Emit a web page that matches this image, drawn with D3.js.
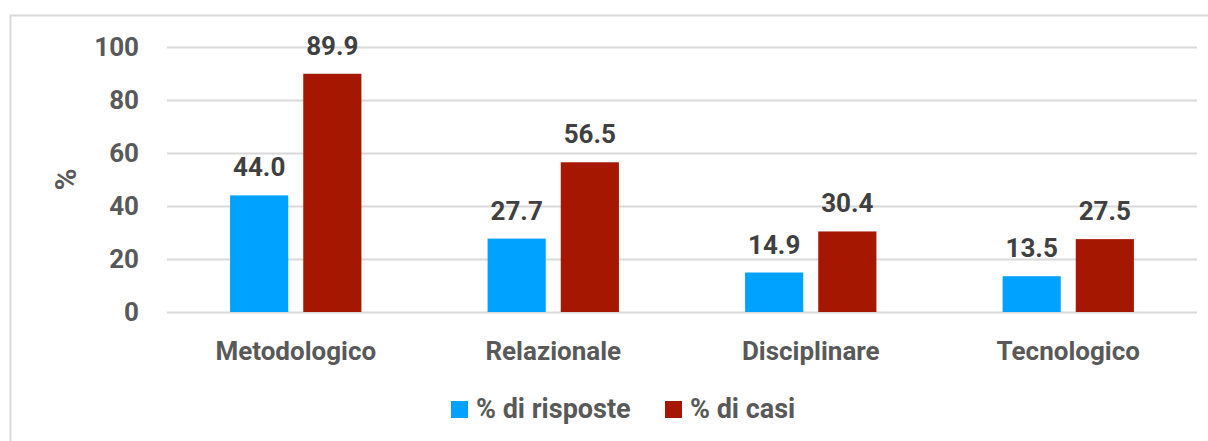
<!DOCTYPE html>
<html>
<head>
<meta charset="utf-8">
<script src="https://cdn.jsdelivr.net/npm/d3@7"></script>
<style>
  body { margin: 0; background: #fff; }
  text { font-family: Roboto, "Liberation Sans", sans-serif; font-weight: bold; }
</style>
</head>
<body>
<div id="root"></div>
<script>
// Chart data
var categories = ["Metodologico", "Relazionale", "Disciplinare", "Tecnologico"];
var seriesNames = ["% di risposte", "% di casi"];
var risposte = [44.0, 27.7, 14.9, 13.5];
var casi = [89.9, 56.5, 30.4, 27.5];
var yTicks = [0, 20, 40, 60, 80, 100];

var colors = ["#00a2ff", "#a51700"];

var W = 1208, H = 441;
var margin = {top: 47, right: 11, bottom: 129, left: 167};
var width = W - margin.left - margin.right,
    height = H - margin.top - margin.bottom;

var svg = d3.select("#root").append("svg")
            .attr("width", W)
            .attr("height", H);

// chart border (runs off the right/bottom edge)
svg.append("rect")
   .attr("x", 10.5).attr("y", 15.5)
   .attr("width", W + 20).attr("height", H + 20)
   .attr("fill", "none")
   .attr("stroke", "#d9d9d9")
   .attr("stroke-width", 2);

var g = svg.append("g")
           .attr("transform", "translate(" + margin.left + "," + margin.top + ")");

var x0 = d3.scaleBand()
           .domain(categories)
           .range([0, width])
           .paddingInner(0.49)
           .paddingOuter(0.245);

var x1 = d3.scaleBand()
           .domain(seriesNames)
           .range([0, x0.bandwidth()])
           .paddingInner(0.205);

var y = d3.scaleLinear()
          .domain([0, 100])
          .range([height, 0]);

// gridlines + y tick labels
var yAxis = g.append("g")
             .call(d3.axisLeft(y).tickValues(yTicks).tickSize(-width).tickPadding(28));
yAxis.select(".domain").remove();
yAxis.selectAll(".tick line").attr("stroke", "#d9d9d9").attr("stroke-width", 2);
yAxis.selectAll(".tick text")
     .attr("fill", "#595959")
     .attr("font-size", 26)
     .style("font-family", "Roboto, sans-serif")
     .style("font-weight", "bold");

// y axis title
g.append("text")
 .attr("transform", "translate(" + (-91) + "," + (height / 2) + ") rotate(-90)")
 .attr("text-anchor", "middle")
 .attr("fill", "#595959")
 .attr("font-size", 30)
 .text("%");

// x axis labels
var xAxis = g.append("g")
             .attr("transform", "translate(0," + height + ")")
             .call(d3.axisBottom(x0).tickSize(0).tickPadding(30));
xAxis.select(".domain").remove();
xAxis.selectAll(".tick text")
     .attr("fill", "#595959")
     .attr("font-size", 26)
     .style("font-family", "Roboto, sans-serif")
     .style("font-weight", "bold");

// bars
var rows = categories.map(function (c, i) {
  return {cat: c, values: [
    {name: seriesNames[0], value: risposte[i], color: colors[0]},
    {name: seriesNames[1], value: casi[i], color: colors[1]}
  ]};
});

var groups = g.selectAll(".grp")
              .data(rows)
              .enter().append("g")
              .attr("class", "grp")
              .attr("transform", function (d) { return "translate(" + x0(d.cat) + ",0)"; });

groups.selectAll("rect")
      .data(function (d) { return d.values; })
      .enter().append("rect")
      .attr("x", function (d) { return x1(d.name); })
      .attr("y", function (d) { return y(d.value); })
      .attr("width", x1.bandwidth())
      .attr("height", function (d) { return height - y(d.value); })
      .attr("fill", function (d) { return d.color; });

groups.selectAll(".val")
      .data(function (d) { return d.values; })
      .enter().append("text")
      .attr("class", "val")
      .attr("x", function (d) { return x1(d.name) + x1.bandwidth() / 2; })
      .attr("y", function (d) { return y(d.value) - 19; })
      .attr("text-anchor", "middle")
      .attr("fill", "#404040")
      .attr("font-size", 26)
      .text(function (d) { return d.value.toFixed(1); });

// legend
var legendX = [451, 665];
var legend = svg.selectAll(".legend")
                .data(seriesNames)
                .enter().append("g")
                .attr("class", "legend")
                .attr("transform", function (d, i) { return "translate(" + legendX[i] + ",401)"; });

legend.append("rect")
      .attr("width", 17).attr("height", 17)
      .attr("fill", function (d, i) { return colors[i]; });

legend.append("text")
      .attr("x", 25).attr("y", 17)
      .attr("fill", "#595959")
      .attr("font-size", 27)
      .text(function (d) { return d; });
</script>
</body>
</html>
